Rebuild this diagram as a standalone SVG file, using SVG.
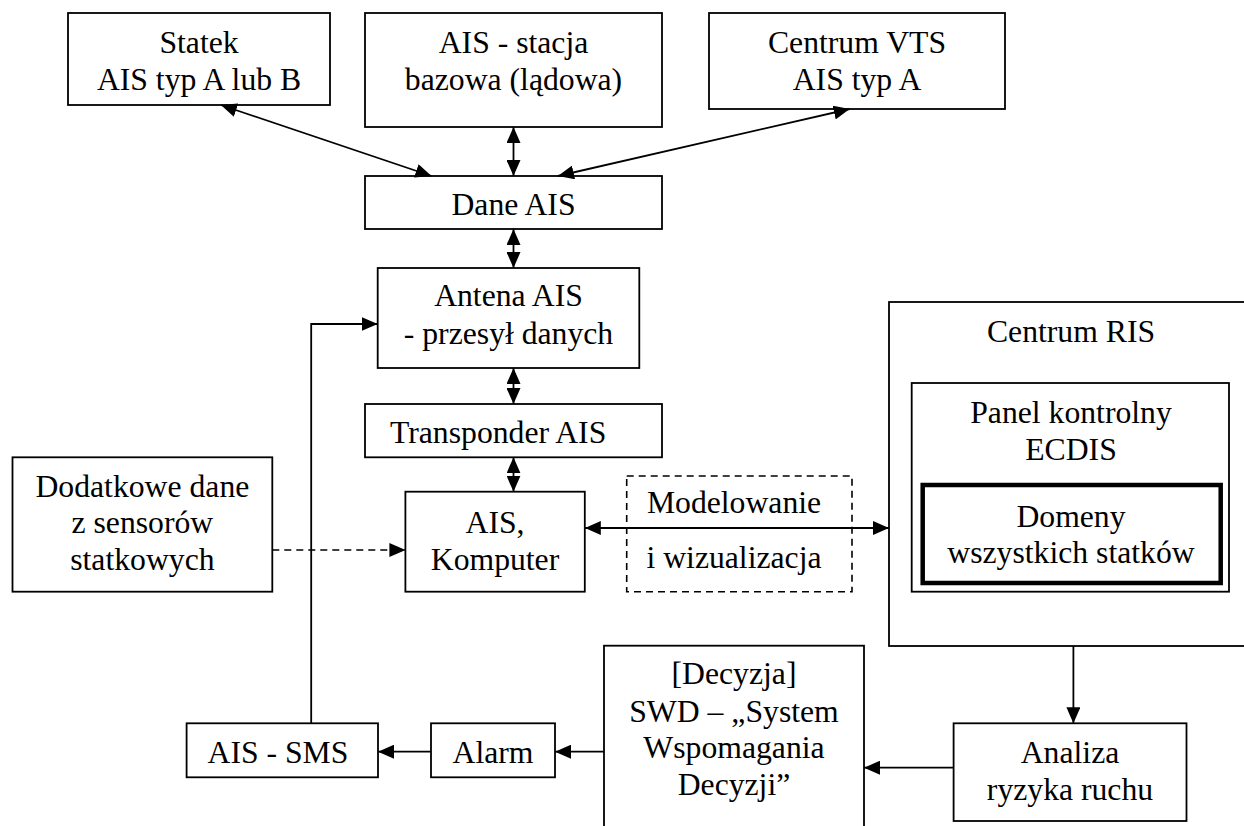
<svg xmlns="http://www.w3.org/2000/svg" width="1244" height="826" viewBox="0 0 1244 826">
<style>
.b{fill:#fff;stroke:#000;stroke-width:1.8}
.d{fill:none;stroke:#000;stroke-width:1.6;stroke-dasharray:7 5}
.t{font-family:"Liberation Serif","Times New Roman",serif;font-size:31.7px;fill:#000;text-anchor:middle}
.s{text-anchor:start}
.c{fill:none;stroke:#000;stroke-width:1.8}
.cd{fill:none;stroke:#000;stroke-width:1.6;stroke-dasharray:7 5}
</style>
<defs>
<marker id="ah" markerUnits="userSpaceOnUse" markerWidth="16" markerHeight="14" refX="16" refY="7" orient="auto-start-reverse" viewBox="0 0 16 14">
<path d="M0,0 L16,7 L0,14 z" fill="#000"/>
</marker>
</defs>
<rect x="0" y="0" width="1244" height="826" fill="#fff"/>
<g id="statek"><rect class="b" x="68" y="13" width="262" height="92"/><text class="t" x="199" y="53">Statek</text><text class="t" x="199" y="90">AIS typ A lub B</text></g>
<g id="stacja"><rect class="b" x="365" y="13" width="297" height="114"/><text class="t" x="513.5" y="53">AIS - stacja</text><text class="t" x="513.5" y="90">bazowa (lądowa)</text></g>
<g id="vts"><rect class="b" x="709" y="13" width="296" height="96"/><text class="t" x="857" y="53">Centrum VTS</text><text class="t" x="857" y="90">AIS typ A</text></g>
<g id="dane"><rect class="b" x="365" y="176" width="297" height="53"/><text class="t" x="513.5" y="215">Dane AIS</text></g>
<g id="antena"><rect class="b" x="377.7" y="268" width="261.6" height="100"/><text class="t" x="508.5" y="306">Antena AIS</text><text class="t" x="508.5" y="344">- przesył danych</text></g>
<g id="transponder"><rect class="b" x="365" y="404" width="297" height="53.3"/><text class="t s" x="390" y="442.7">Transponder AIS</text></g>
<g id="dodatkowe"><rect class="b" x="12.5" y="457.3" width="259.8" height="134.4"/><text class="t" x="142.4" y="496.7">Dodatkowe dane</text><text class="t" x="142.4" y="533.4">z sensorów</text><text class="t" x="142.4" y="570">statkowych</text></g>
<g id="komputer"><rect class="b" x="405.4" y="491.7" width="179.4" height="100"/><text class="t" x="495" y="533.4">AIS,</text><text class="t" x="495" y="570">Komputer</text></g>
<g id="modelowanie"><rect class="d" x="626.7" y="476" width="225.3" height="115.7"/><text class="t" x="734" y="513.3">Modelowanie</text><text class="t" x="734" y="568.3">i wizualizacja</text></g>
<g id="ris"><rect class="b" x="889" y="302" width="364" height="344"/><text class="t" x="1071" y="341.7">Centrum RIS</text></g>
<g id="panel"><rect class="b" x="911.7" y="383" width="317.3" height="208.7"/><text class="t" x="1071" y="423">Panel kontrolny</text><text class="t" x="1071" y="460">ECDIS</text></g>
<g id="domeny"><rect fill="#fff" stroke="#000" stroke-width="4.5" x="922.7" y="485" width="298" height="98"/><text class="t" x="1071" y="526.7">Domeny</text><text class="t" x="1071" y="563.3">wszystkich statków</text></g>
<g id="decyzja"><rect class="b" x="604" y="645.7" width="260" height="200"/><text class="t" x="734" y="684">[Decyzja]</text><text class="t" x="734" y="721.7">SWD – „System</text><text class="t" x="734" y="758">Wspomagania</text><text class="t" x="734" y="795">Decyzji”</text></g>
<g id="analiza"><rect class="b" x="953.6" y="723.3" width="232.9" height="97.7"/><text class="t" x="1070" y="762.7">Analiza</text><text class="t" x="1070" y="800">ryzyka ruchu</text></g>
<g id="alarm"><rect class="b" x="431" y="723.3" width="124" height="54"/><text class="t" x="493" y="762.7">Alarm</text></g>
<g id="aissms"><rect class="b" x="186.6" y="723.3" width="191.4" height="54"/><text class="t" x="278" y="762.7">AIS - SMS</text></g>
<g id="connectors">
<line class="c" x1="220.9" y1="105" x2="431.5" y2="176" marker-start="url(#ah)" marker-end="url(#ah)"/>
<line class="c" x1="513.5" y1="127" x2="513.5" y2="176" marker-start="url(#ah)" marker-end="url(#ah)"/>
<line class="c" x1="849.7" y1="109" x2="557.9" y2="176" marker-start="url(#ah)" marker-end="url(#ah)"/>
<line class="c" x1="513.5" y1="229" x2="513.5" y2="268" marker-start="url(#ah)" marker-end="url(#ah)"/>
<line class="c" x1="513.5" y1="368" x2="513.5" y2="404" marker-start="url(#ah)" marker-end="url(#ah)"/>
<line class="c" x1="513.5" y1="457.3" x2="513.5" y2="491.7" marker-start="url(#ah)" marker-end="url(#ah)"/>
<line class="c" x1="584.8" y1="528" x2="889" y2="528" marker-start="url(#ah)" marker-end="url(#ah)"/>
<line class="cd" x1="272.3" y1="550" x2="405.4" y2="550" marker-end="url(#ah)"/>
<line class="c" x1="1073.4" y1="646" x2="1073.4" y2="723.3" marker-end="url(#ah)"/>
<line class="c" x1="953.6" y1="767.7" x2="864" y2="767.7" marker-end="url(#ah)"/>
<line class="c" x1="604" y1="751.7" x2="555" y2="751.7" marker-end="url(#ah)"/>
<line class="c" x1="431" y1="751.7" x2="378" y2="751.7" marker-end="url(#ah)"/>
<polyline class="c" points="311.2,723.3 311.2,324 377.7,324" marker-end="url(#ah)"/>
</g>
</svg>
